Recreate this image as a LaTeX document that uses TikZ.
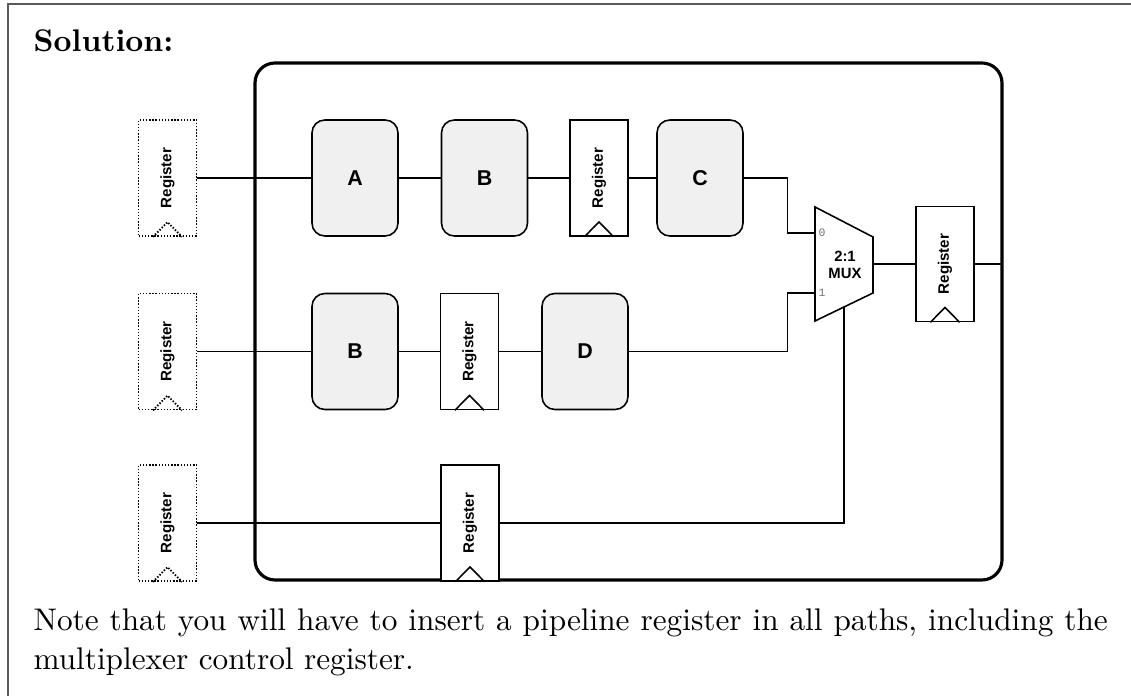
\documentclass[tikz,border=0pt]{standalone}
\usepackage{fontspec}
\usepackage{graphicx}
\newfontfamily\hel{Liberation Sans}
\newfontfamily\monof{Liberation Mono}
\definecolor{blockfill}{RGB}{240,240,240}
\newcommand\regtxt{\rotatebox{90}{Register}}
\begin{document}
\begin{tikzpicture}[x=0.35pt,y=-0.35pt,
  wire/.style={line width=0.4pt},
  block/.style={draw, line width=0.55pt, rounded corners=4.5pt, fill=blockfill,
    minimum width=30.1pt, minimum height=40.6pt, inner sep=0pt,
    font=\hel\bfseries\fontsize{7.5}{8}\selectfont},
  reg/.style={draw, line width=0.55pt, fill=white, minimum width=20.3pt,
    minimum height=40.6pt, inner sep=0pt,
    font=\hel\bfseries\fontsize{5.3}{6}\selectfont},
  dreg/.style={reg, line width=0.65pt, dash pattern=on 0.5pt off 0.6pt},
  clk/.style={line width=0.55pt},
  dclk/.style={line width=0.65pt, dash pattern=on 0.5pt off 0.6pt},
  frame/.style={line width=1.1pt, rounded corners=7pt},
  portlbl/.style={font=\monof\fontsize{4}{4}\selectfont, text=black!55, anchor=west, inner sep=0pt},
]
\useasboundingbox (0,0) rectangle (1131,696);
% outer page frame
\draw[black!65, line width=0.7pt] (8,696) -- (8,4) -- (1131,4);
\node[anchor=base west, inner sep=0pt, font=\bfseries\fontsize{10.95}{13.6}\selectfont] (sol) at (33,52) {Solution:};

% big frame
\draw[frame] (255,63) rectangle (1002,580);

% left (dotted) registers
\node[dreg] (d1) at (167.5,178) {\regtxt};
\node[dreg] (d2) at (167.5,351.5) {\regtxt};
\node[dreg] (d3) at (167.5,523) {\regtxt};

% row 1
\node[block] (A) at (355,178) {A};
\node[block] (B1) at (484.5,178) {B};
\node[reg] (R1) at (599,178) {\regtxt};
\node[block] (C) at (700,178) {C};
% row 2
\node[block] (B2) at (355,351.5) {B};
\node[reg] (R2) at (469.5,351.5) {\regtxt};
\node[block] (D) at (585,351.5) {D};
% row 3
\node[reg] (R3) at (470,523) {\regtxt};
% output register
\node[reg, minimum height=40.25pt] (RO) at (945,264) {\regtxt};

% MUX
\draw[line width=0.55pt, fill=white] (815,207) -- (873,237) -- (873,293) -- (815,321) -- cycle;
\node[font=\hel\bfseries\fontsize{5.2}{5.9}\selectfont, align=center, inner sep=0pt] (mux) at (845,265) {2:1\\MUX};
\coordinate (mux0) at (815,233);
\coordinate (mux1) at (815,293);
\coordinate (muxs) at (844,307);
\coordinate (muxo) at (873,264);
\coordinate (outend) at (1002,264);
\node[portlbl] (l0) at (818,233) {0};
\node[portlbl] (l1) at (818,293) {1};

% clock triangles
\foreach \r in {R1,R2,R3,RO}{
  \draw[clk] ([xshift=-5.1pt]\r.south) -- ([yshift=5.2pt]\r.south) -- ([xshift=5.1pt]\r.south);
}
\foreach \r in {d1,d2,d3}{
  \draw[dclk] ([xshift=-5.1pt]\r.south) -- ([yshift=5.2pt]\r.south) -- ([xshift=5.1pt]\r.south);
}

% wires
\draw[wire] (d1.east) -- (A.west);
\draw[wire] (A.east) -- (B1.west);
\draw[wire] (B1.east) -- (R1.west);
\draw[wire] (R1.east) -- (C.west);
\draw[wire] (C.east) -- ++(44,0) |- (mux0);
\draw[wire] (d2.east) -- (B2.west);
\draw[wire] (B2.east) -- (R2.west);
\draw[wire] (R2.east) -- (D.west);
\draw[wire] (D.east) -- ++(159,0) |- (mux1);
\draw[wire] (d3.east) -- (R3.west);
\draw[wire] (R3.east) -| (muxs);
\draw[wire] (muxo) -- (RO.west);
\draw[wire] (RO.east) -- (outend);

% note text
\node[anchor=base west, inner sep=0pt, text width=376pt, align=justify,
  font=\fontsize{10.95}{13.6}\selectfont] (note) at (33,631)
  {Note that you will have to insert a pipeline register in all paths, including the multiplexer control register.};
\end{tikzpicture}
\end{document}
